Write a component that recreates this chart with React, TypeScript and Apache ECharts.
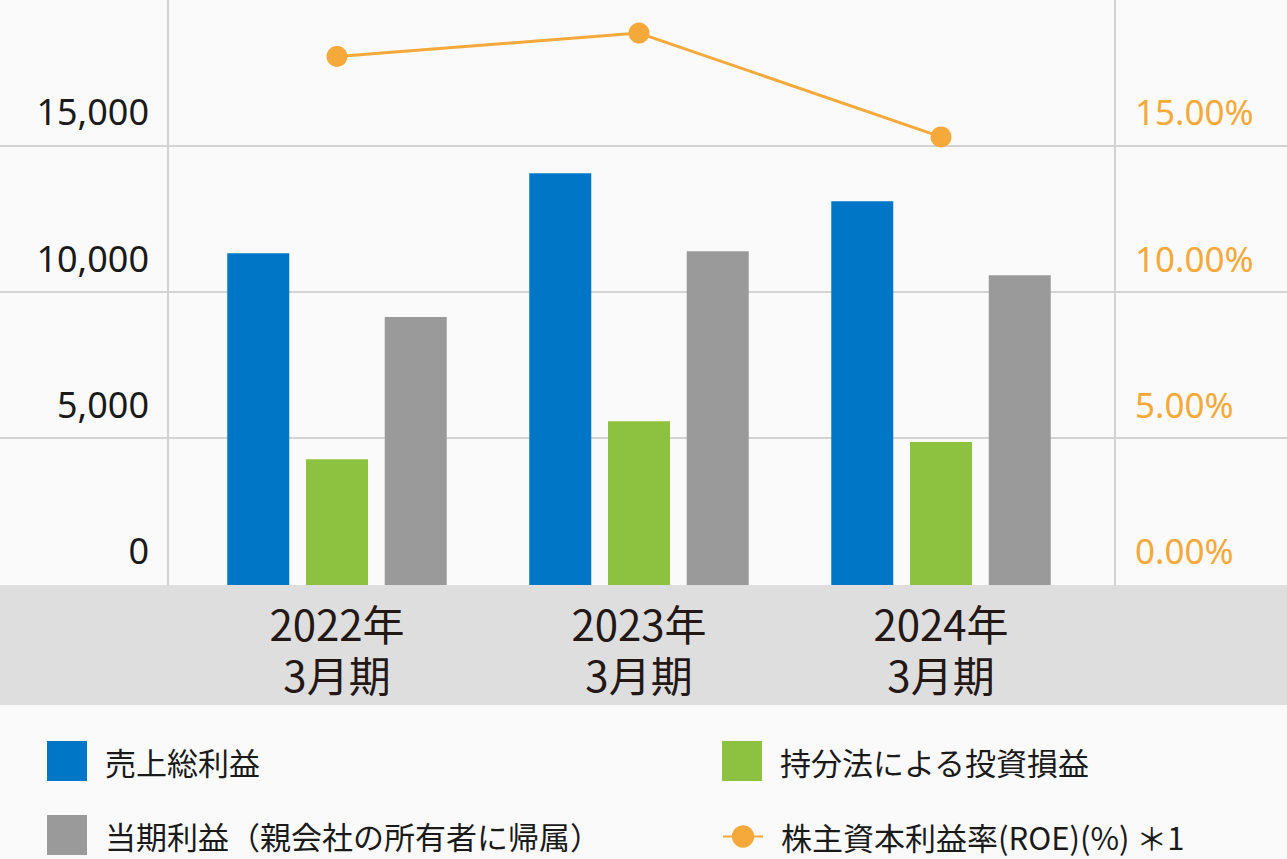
import React, { useEffect, useRef } from "react";
import * as echarts from "echarts";

const categories = ["2022年\n3月期", "2023年\n3月期", "2024年\n3月期"];
const grossProfit = [11340, 14080, 13120];
const equityIncome = [4300, 5600, 4890];
const netIncome = [9160, 11410, 10590];
const roe = [18.07, 18.87, 15.32];

const leftTicks = { min: 0, max: 20000, interval: 5000 };
const rightTicks = { min: 0, max: 20, interval: 5 };

const NAME_GP = "売上総利益";
const NAME_EQ = "持分法による投資損益";
const NAME_NI = "当期利益（親会社の所有者に帰属）";
const NAME_ROE = "株主資本利益率(ROE)(%) ＊1";

const BLUE = "#0077c6";
const GREEN = "#8cc23f";
const GRAY = "#9a9a9a";
const ORANGE = "#f5a93b";
const LINE = "#d3d3d3";
const CJK = "'Noto Sans CJK JP', 'Noto Sans', sans-serif";
const LATIN = "'Noto Sans', 'Noto Sans CJK JP', sans-serif";

export default function App() {
  const ref = useRef<HTMLDivElement>(null);
  useEffect(() => {
    if (!ref.current) return;
    const chart = echarts.init(ref.current, undefined, { renderer: "svg" });
    const legendText = {
      fontSize: 31,
      color: "#1a1a1a",
      fontFamily: CJK,
      padding: [0, 0, 0, 13],
    };
    chart.setOption({
      animation: false,
      backgroundColor: "#fafafa",
      graphic: [
        {
          type: "rect",
          z: -1,
          shape: { x: 0, y: 585, width: 1287, height: 120 },
          style: { fill: "#dedede" },
        },
      ],
      grid: [
        { left: 186, right: 195, top: 0, bottom: 274 },
        { left: 0, right: 0, top: 146, bottom: 421 },
      ],
      xAxis: [
        {
          type: "category",
          gridIndex: 0,
          data: categories,
          axisLine: { show: false },
          axisTick: { show: false },
          axisLabel: {
            margin: 12,
            fontSize: 42,
            lineHeight: 51,
            color: "#231815",
            fontFamily: CJK,
          },
        },
        { type: "value", gridIndex: 1, min: 0, max: 1, show: false },
      ],
      yAxis: [
        {
          type: "value",
          gridIndex: 0,
          position: "left",
          offset: 18,
          ...leftTicks,
          axisLine: { show: true, lineStyle: { color: LINE, width: 2 } },
          axisTick: { show: false },
          splitLine: { show: false },
          axisLabel: {
            showMaxLabel: false,
            margin: 19,
            fontSize: 36,
            color: "#1a1a1a",
            fontFamily: LATIN,
            verticalAlign: "bottom",
            lineHeight: 69,
            formatter: (v: number) => v.toLocaleString("en-US"),
          },
        },
        {
          type: "value",
          gridIndex: 0,
          position: "right",
          offset: 23,
          ...rightTicks,
          axisLine: { show: true, lineStyle: { color: LINE, width: 2 } },
          axisTick: { show: false },
          splitLine: { show: false },
          axisLabel: {
            showMaxLabel: false,
            margin: 20,
            fontSize: 35,
            color: ORANGE,
            fontFamily: LATIN,
            verticalAlign: "bottom",
            lineHeight: 69,
            formatter: (v: number) => v.toFixed(2) + "%",
          },
        },
        {
          type: "value",
          gridIndex: 1,
          min: 5000,
          max: 15000,
          interval: 5000,
          axisLine: { show: false },
          axisTick: { show: false },
          axisLabel: { show: false },
          splitLine: { show: true, lineStyle: { color: LINE, width: 2 } },
        },
      ],
      legend: [
        {
          data: [
            { name: NAME_GP, icon: "rect" },
            { name: NAME_NI, icon: "rect" },
          ],
          orient: "vertical",
          left: 47,
          top: 741,
          padding: 0,
          itemWidth: 40,
          itemHeight: 40,
          itemGap: 34,
          selectedMode: false,
          textStyle: legendText,
        },
        {
          data: [{ name: NAME_EQ, icon: "rect" }],
          orient: "vertical",
          left: 722,
          top: 741,
          padding: 0,
          itemWidth: 40,
          itemHeight: 40,
          selectedMode: false,
          textStyle: legendText,
        },
        {
          data: [NAME_ROE],
          orient: "vertical",
          left: 722,
          top: 821,
          padding: 0,
          itemWidth: 40,
          itemHeight: 28,
          selectedMode: false,
          textStyle: legendText,
        },
      ],
      series: [
        {
          name: NAME_GP,
          type: "bar",
          xAxisIndex: 0,
          yAxisIndex: 0,
          data: grossProfit,
          barWidth: 62,
          barGap: "27%",
          itemStyle: { color: BLUE },
        },
        {
          name: NAME_EQ,
          type: "bar",
          xAxisIndex: 0,
          yAxisIndex: 0,
          data: equityIncome,
          barWidth: 62,
          barGap: "27%",
          itemStyle: { color: GREEN },
        },
        {
          name: NAME_NI,
          type: "bar",
          xAxisIndex: 0,
          yAxisIndex: 0,
          data: netIncome,
          barWidth: 62,
          barGap: "27%",
          itemStyle: { color: GRAY },
        },
        {
          name: NAME_ROE,
          type: "line",
          xAxisIndex: 0,
          yAxisIndex: 1,
          data: roe,
          symbol: "circle",
          symbolSize: 21,
          lineStyle: { color: ORANGE, width: 3 },
          itemStyle: { color: ORANGE },
          z: 5,
        },
      ],
    });
    return () => chart.dispose();
  }, []);
  return (
    <div
      ref={ref}
      style={{ position: "fixed", left: 0, top: 0, width: 1287, height: 859 }}
    />
  );
}
